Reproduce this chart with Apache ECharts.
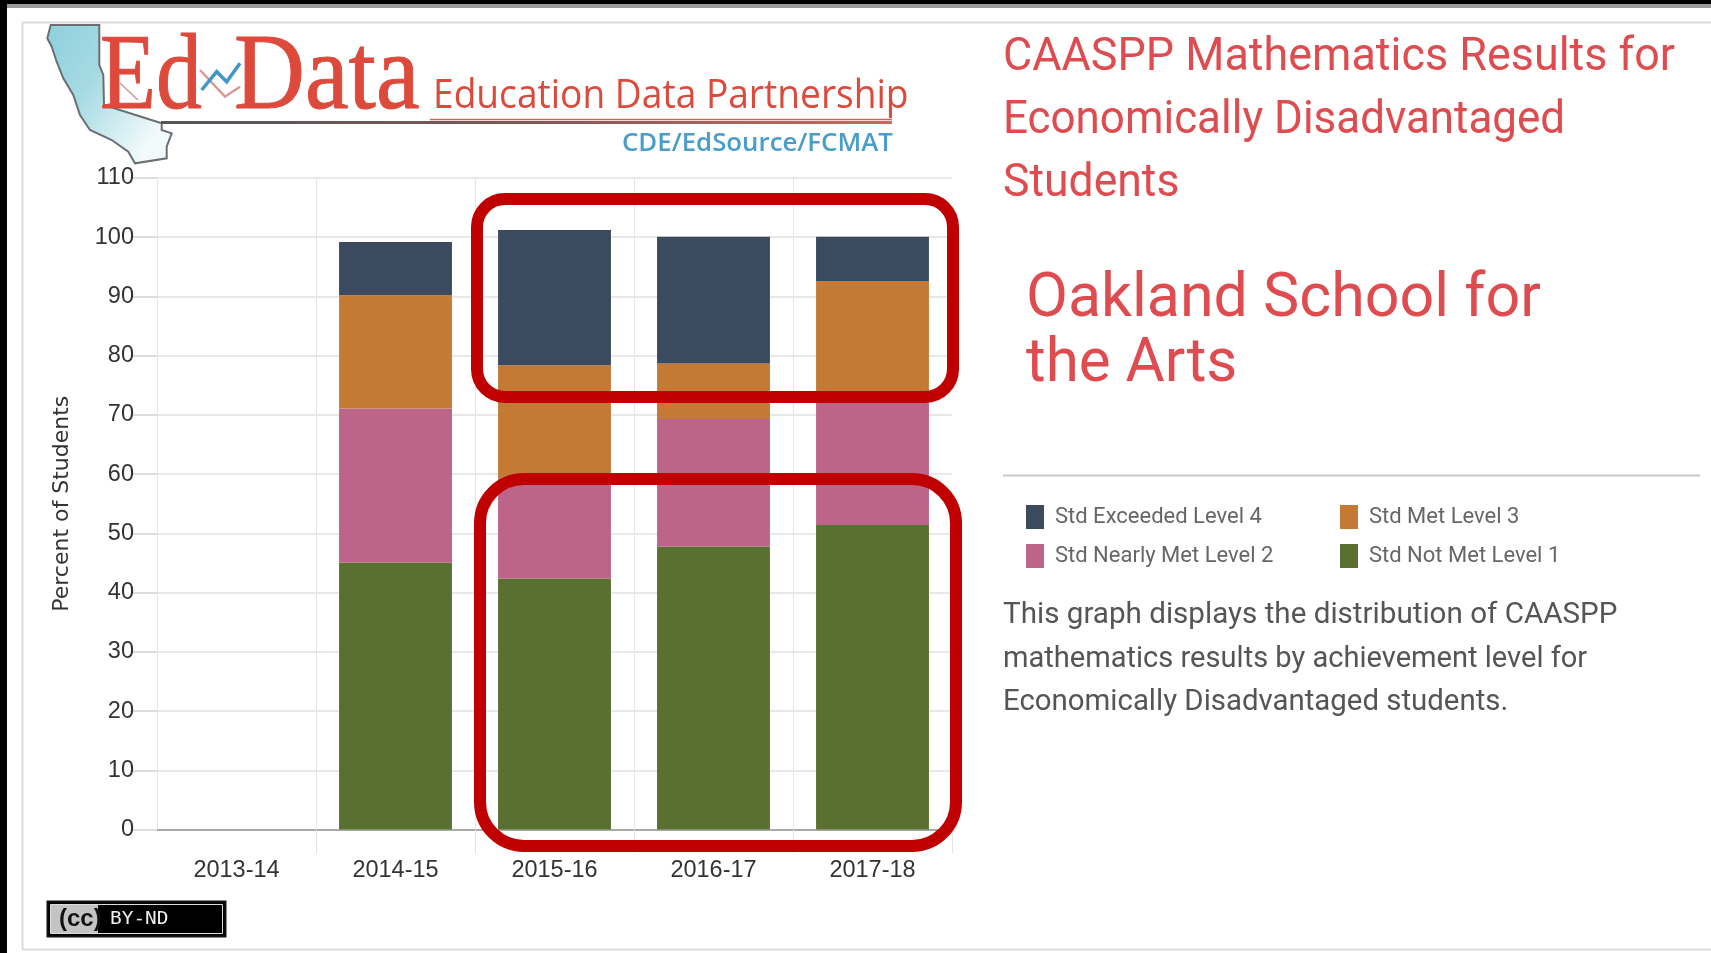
<!DOCTYPE html>
<html><head><meta charset="utf-8">
<style>html,body{margin:0;padding:0;background:#000;}#c{width:1711px;height:953px;}</style>
<script src="https://cdn.jsdelivr.net/npm/echarts@6/dist/echarts.min.js"></script>
</head><body><div id="c"></div>
<script>
const categories = ['2013-14','2014-15','2015-16','2016-17','2017-18'];
const notMet = [null,45.1,42.4,47.8,51.4];
const nearlyMet = [null,26.0,16.9,21.5,20.6];
const met = [null,19.1,19.1,9.4,20.6];
const exceeded = [null,9.0,22.8,21.4,7.5];
const seriesNames = ['Std Exceeded Level 4','Std Met Level 3','Std Nearly Met Level 2','Std Not Met Level 1'];
const titleLines = ['CAASPP Mathematics Results for','Economically Disadvantaged','Students'];
const schoolLines = ['Oakland School for','the Arts'];
const descLines = ['This graph displays the distribution of CAASPP','mathematics results by achievement level for','Economically Disadvantaged students.'];
const NAVY='#3b4a5f',ORANGE='#c47a35',PINK='#bc6489',GREEN='#5a7030',BOX='#c00000',RED='#df4c50',LOGO='#dd4a3c';
const body='Roboto, sans-serif', chartFont='"Liberation Sans", Arial, sans-serif';
// x = left edge, b = text baseline, sx = horizontal squeeze
function txt(x,b,s,size,fill,font,sx,extra){return {type:'text',z:20,x:x,y:b-0.35*size,scaleX:sx||1,style:Object.assign({text:s,fontSize:size,fontFamily:font||body,fill:fill,verticalAlign:'middle'},extra||{})};}
const g=[];
// page frame
g.push({type:'rect',z:0,silent:true,shape:{x:7,y:4,width:1704,height:949},style:{fill:'#fff'}});
g.push({type:'rect',z:0,silent:true,shape:{x:7,y:4,width:1704,height:4},style:{fill:'#999'}});
g.push({type:'rect',z:0,silent:true,shape:{x:22.5,y:22.5,width:1700,height:927},style:{fill:'#fff',stroke:'#dcdcdc',lineWidth:2}});
// logo
g.push({type:'polygon',z:19,shape:{points:[[50.7,25],[99.3,25],[99.3,65],[103.3,75],[104,105],[161.7,123.3],[161.7,130],[171.7,133.3],[166.7,146.7],[166.7,158.3],[135,163.3],[128.3,151.7],[111.7,140],[90,130],[80,115],[73.3,95],[63.3,78.3],[56.7,61.7],[51.7,46.7],[47.3,38.3]]},
 style:{fill:{type:'linear',x:0,y:0,x2:1,y2:0.6,colorStops:[{offset:0,color:'#8ecfdb'},{offset:.45,color:'#a6dae3'},{offset:1,color:'#f2fafb'}]},stroke:'#6a6f72',lineWidth:2}});
g.push({type:'line',z:19,shape:{x1:161,y1:122.5,x2:892,y2:122.5},style:{stroke:{type:'linear',x:0,y:0,x2:1,y2:0,colorStops:[{offset:0,color:'#555'},{offset:.5,color:'#7a5a5a'},{offset:1,color:'#c86a60'}]},lineWidth:3}});
g.push({type:'line',z:19,shape:{x1:430,y1:119.5,x2:892,y2:119.5},style:{stroke:'#df5c50',lineWidth:1.5}});
g.push({type:'line',z:19,shape:{x1:120,y1:83,x2:138,y2:100},style:{stroke:'#c99',lineWidth:1.5}});
g.push(txt(100,117,'Ed',108,LOGO,'"Liberation Serif", serif',0.85,{stroke:LOGO,lineWidth:1}));
g.push(txt(234,117,'Data',108,LOGO,'"Liberation Serif", serif',0.91,{stroke:LOGO,lineWidth:1}));
g.push({type:'polyline',z:20,shape:{points:[[200,70],[225,96.7],[240,86.7]]},style:{stroke:'#d99a94',lineWidth:2.5,fill:'none'}});
g.push({type:'polyline',z:20,shape:{points:[[201.7,90],[216.7,71.7],[226.7,81.7],[240,63.3]]},style:{stroke:'#3f97c9',lineWidth:3.5,fill:'none'}});
g.push(txt(433,111,'Education Data Partnership',40,LOGO,'"Open Sans", sans-serif',0.928));
g.push(txt(622,152.5,'CDE/EdSource/FCMAT',25.8,'#4a9cc9','"Open Sans", sans-serif',1,{fontWeight:600}));
// right column
const titleFit=[0.976,0.955,0.968], descFit=[1.007,0.989,1];
titleLines.forEach((s,i)=>g.push(txt(1003,75+i*63,s,46,RED,body,titleFit[i])));
schoolLines.forEach((s,i)=>g.push(txt(1026,322+i*65.5,s,62,RED,body,i?0.97:0.983)));
g.push({type:'line',z:20,shape:{x1:1003,y1:475.5,x2:1700,y2:475.5},style:{stroke:'#c8c8c8',lineWidth:2}});
descLines.forEach((s,i)=>g.push(txt(1003,626+i*43.5,s,29.4,'#555',body,descFit[i])));
// highlight boxes
g.push({type:'rect',z:30,shape:{x:477,y:199,width:476,height:198,r:28},style:{fill:'none',stroke:BOX,lineWidth:12}});
g.push({type:'rect',z:30,shape:{x:480,y:479,width:476,height:367,r:44},style:{fill:'none',stroke:BOX,lineWidth:12}});
// CC badge
g.push({type:'rect',z:20,shape:{x:47.5,y:901.5,width:178,height:35},style:{fill:'#000',stroke:'#111',lineWidth:2}});
g.push({type:'rect',z:20,shape:{x:50.5,y:904.5,width:172,height:29},style:{fill:'#000',stroke:'#ddd',lineWidth:1}});
g.push({type:'rect',z:20,shape:{x:51,y:905,width:47,height:28},style:{fill:'#c4c4c4'}});
g.push(txt(59,928,'(cc)',24,'#111','"Liberation Sans", sans-serif',1,{fontWeight:'bold'}));
g.push(txt(110,926,'BY-ND',18,'#eee','"DejaVu Sans Mono", monospace',1.08));
const bar=(name,data,color)=>({name:name,type:'bar',stack:'t',data:data,barWidth:'71%',itemStyle:{color:color},z:5});
const legendText={fontFamily:body,fontSize:22,color:'#666',padding:[0,0,16,6]};
const option={
 animation:false,backgroundColor:'#000',
 textStyle:{fontFamily:chartFont},
 grid:{left:157,top:178,width:795,height:651.5,containLabel:false},
 legend:[
  {left:1021,top:500,orient:'vertical',itemWidth:18,itemHeight:24,itemGap:15,data:[seriesNames[0],seriesNames[2]],icon:'rect',textStyle:legendText,selectedMode:false},
  {left:1335,top:500,orient:'vertical',itemWidth:18,itemHeight:24,itemGap:15,data:[seriesNames[1],seriesNames[3]],icon:'rect',textStyle:legendText,selectedMode:false}
 ],
 xAxis:{type:'category',data:categories,boundaryGap:true,
  axisLine:{lineStyle:{color:'#aaa',width:2}},
  axisTick:{show:true,length:24,interval:(i)=>i>0,lineStyle:{color:'#e4e4e4'}},
  axisLabel:{color:'#333',fontSize:23.5,margin:29,fontFamily:chartFont},
  splitLine:{show:true,interval:0,showMaxLine:false,lineStyle:{color:'#e6e6e6'}}},
 yAxis:{type:'value',min:0,max:110,interval:10,name:'Percent of Students',nameLocation:'middle',nameGap:84,
  nameTextStyle:{color:'#333',fontSize:22,fontFamily:'"DejaVu Sans", sans-serif'},
  axisLine:{show:true,lineStyle:{color:'#e6e6e6'}},
  axisTick:{show:true,length:25,lineStyle:{color:'#ddd',width:2}},
  axisLabel:{color:'#333',fontSize:23.5,margin:23,fontFamily:chartFont},
  splitLine:{show:true,lineStyle:{color:'#e8e8e8',width:2}}},
 series:[bar(seriesNames[3],notMet,GREEN),bar(seriesNames[2],nearlyMet,PINK),bar(seriesNames[1],met,ORANGE),bar(seriesNames[0],exceeded,NAVY)],
 graphic:{elements:g}
};
const chart=echarts.init(document.getElementById('c'),null,{renderer:'canvas'});
chart.setOption(option);
</script></body></html>
